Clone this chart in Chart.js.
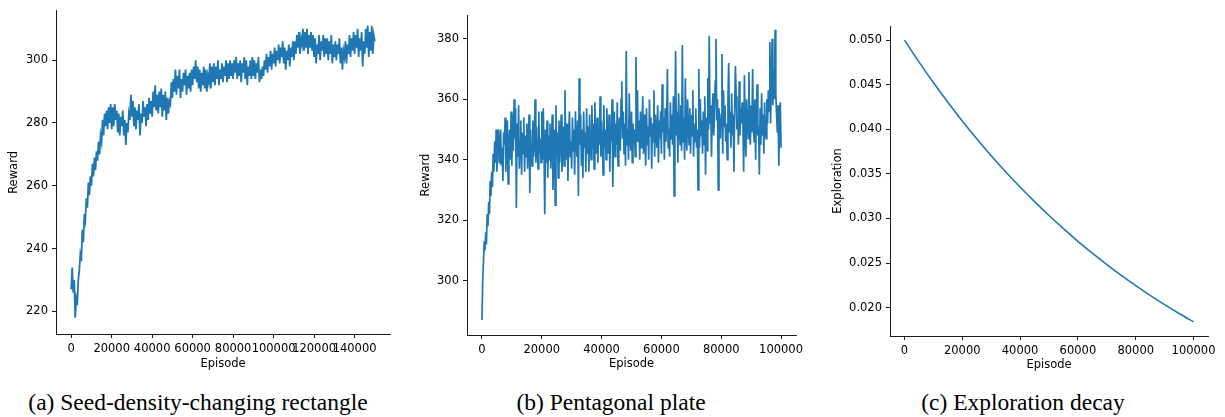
<!DOCTYPE html>
<html>
<head>
<meta charset="utf-8">
<script src="https://cdn.jsdelivr.net/npm/chart.js@4.4.1/dist/chart.umd.min.js"></script>
<style>
  body { margin: 0; background: #fff; }
  #wrap { position: relative; width: 1225px; height: 417px; overflow: hidden; background: #fff; }
  canvas { position: absolute; top: 0; }
  .cap { position: absolute; top: 390px; width: 400px; text-align: center; font-family: "Liberation Serif", "Times New Roman", serif; font-size: 23.5px; line-height: 24px; color: #000; white-space: nowrap; }
</style>
</head>
<body>
<div id="wrap">
  <canvas id="chart-a" width="400" height="380" style="left:0px"></canvas>
  <canvas id="chart-b" width="410" height="380" style="left:400px"></canvas>
  <canvas id="chart-c" width="415" height="380" style="left:810px"></canvas>
  <div class="cap" style="left:-2px">(a) Seed-density-changing rectangle</div>
  <div class="cap" style="left:411px">(b) Pentagonal plate</div>
  <div class="cap" style="left:823px">(c) Exploration decay</div>
</div>
<script>
// (a) reward, one value every 500 episodes (0 .. 150000)
var rewardA = [
    227, 234, 226, 230, 218, 224, 222, 230, 233, 238, 236, 246, 242, 251, 249, 256, 253, 261, 257, 263,
    260, 267, 263, 269, 265, 271, 268, 274, 270, 276, 274, 281, 276, 283, 279, 284, 278, 285, 280, 286,
    278, 285, 279, 286, 281, 284, 277, 283, 276, 282, 279, 284, 276, 281, 273, 280, 277, 283, 281, 289,
    282, 287, 279, 285, 278, 284, 281, 286, 276, 283, 280, 287, 282, 285, 279, 286, 281, 288, 283, 287,
    282, 290, 285, 292, 284, 289, 283, 290, 285, 291, 282, 289, 284, 290, 281, 288, 283, 287, 286, 293,
    288, 294, 290, 297, 289, 295, 291, 297, 288, 294, 290, 296, 292, 297, 289, 295, 291, 296, 290, 297,
    292, 298, 294, 300, 293, 298, 291, 297, 290, 296, 292, 298, 291, 297, 290, 295, 293, 299, 291, 298,
    293, 299, 292, 298, 294, 300, 292, 297, 294, 299, 293, 298, 295, 300, 293, 299, 294, 300, 295, 299,
    294, 300, 296, 301, 294, 299, 295, 300, 293, 299, 296, 301, 294, 300, 292, 298, 295, 300, 294, 301,
    295, 300, 294, 299, 296, 301, 293, 297, 294, 298, 295, 300, 297, 302, 296, 301, 298, 303, 297, 302,
    299, 304, 298, 303, 300, 305, 299, 304, 301, 306, 299, 304, 297, 303, 300, 305, 298, 304, 301, 306,
    300, 306, 302, 308, 304, 309, 302, 307, 305, 310, 303, 309, 304, 310, 302, 308, 304, 309, 303, 308,
    301, 307, 299, 305, 302, 308, 300, 306, 303, 308, 301, 307, 302, 307, 300, 306, 302, 308, 299, 305,
    301, 306, 300, 305, 302, 307, 299, 304, 297, 303, 301, 306, 299, 305, 302, 308, 301, 307, 303, 309,
    302, 308, 304, 310, 301, 307, 303, 309, 298, 306, 302, 310, 304, 311, 301, 309, 303, 311, 302, 308,
    306
];
var stepA = 500;

// (b) reward, one value every 250 episodes (0 .. 100000)
var rewardB = [
    287, 300, 306, 313, 310, 316, 312, 322, 318, 326, 322, 333, 328, 336, 331, 342, 336, 346, 339, 350,
    336, 348, 350, 339, 346, 350, 338, 344, 333, 349, 345, 354, 336, 347, 353, 332, 345, 350, 340, 356,
    338, 355, 343, 360, 347, 357, 324, 352, 341, 358, 337, 346, 353, 335, 349, 342, 354, 336, 348, 341,
    352, 337, 347, 355, 329, 350, 343, 338, 353, 341, 346, 360, 339, 351, 344, 337, 356, 342, 347, 339,
    356, 340, 357, 343, 322, 350, 339, 353, 334, 348, 340, 352, 337, 346, 355, 330, 344, 350, 325, 358,
    341, 349, 334, 353, 339, 347, 355, 336, 344, 351, 338, 363, 345, 340, 352, 333, 348, 356, 341, 346,
    337, 354, 343, 350, 335, 356, 346, 341, 353, 328, 367, 345, 355, 338, 350, 334, 356, 344, 349, 336,
    357, 342, 351, 336, 355, 346, 340, 358, 344, 352, 337, 359, 347, 342, 354, 339, 350, 345, 361, 341,
    353, 347, 335, 358, 344, 350, 340, 357, 348, 342, 355, 336, 351, 346, 360, 331, 349, 356, 341, 352,
    345, 359, 338, 350, 354, 343, 360, 366, 347, 356, 342, 352, 338, 376, 345, 350, 340, 362, 348, 343,
    356, 339, 352, 345, 350, 341, 374, 346, 363, 346, 353, 340, 356, 344, 349, 361, 342, 355, 347, 338,
    357, 345, 351, 340, 360, 348, 354, 337, 352, 346, 363, 341, 355, 349, 344, 358, 339, 353, 347, 356,
    342, 365, 349, 354, 340, 357, 346, 352, 370, 344, 350, 341, 359, 347, 355, 345, 361, 328, 352, 376,
    348, 356, 339, 362, 351, 345, 358, 343, 378, 346, 354, 340, 367, 349, 343, 360, 352, 345, 357, 342,
    355, 348, 363, 341, 352, 346, 357, 344, 350, 330, 370, 344, 360, 348, 353, 342, 356, 345, 361, 335,
    354, 343, 367, 350, 381, 352, 358, 341, 356, 362, 348, 355, 366, 380, 353, 360, 330, 357, 350, 347,
    355, 375, 342, 363, 351, 358, 346, 352, 340, 360, 372, 349, 356, 344, 362, 348, 355, 336, 358, 371,
    361, 350, 354, 345, 366, 348, 357, 352, 359, 352, 336, 368, 350, 341, 360, 354, 347, 369, 352, 345,
    358, 349, 370, 352, 346, 360, 340, 355, 365, 348, 351, 335, 357, 345, 362, 348, 355, 342, 359, 350,
    347, 360, 352, 363, 356, 379, 352, 366, 380, 358, 370, 360, 383, 362, 355, 349, 358, 338, 352, 359,
    344
];
var stepB = 250;

// (c) exploration rate
var episodesC = [0, 5000, 10000, 15000, 20000, 25000, 30000, 35000, 40000, 45000, 50000,
    55000, 60000, 65000, 70000, 75000, 80000, 85000, 90000, 95000, 100000];
var exploreC = [0.05000, 0.04756, 0.04524, 0.04304, 0.04094, 0.03894, 0.03704, 0.03524, 0.03352, 0.03188, 0.03033,
    0.02885, 0.02744, 0.02611, 0.02483, 0.02362, 0.02247, 0.02138, 0.02033, 0.01934, 0.01840];

var ticksXA = [0, 20000, 40000, 60000, 80000, 100000, 120000, 140000];
var ticksXB = [0, 20000, 40000, 60000, 80000, 100000];
var ticksYA = [220, 240, 260, 280, 300];
var ticksYB = [300, 320, 340, 360, 380];
var ticksYC = [0.020, 0.025, 0.030, 0.035, 0.040, 0.045, 0.050];

Chart.defaults.font.family = "DejaVu Sans";
Chart.defaults.font.size = 11.5;
Chart.defaults.color = "#000";

function axis(c) {
    return {
        type: "linear",
        min: c.min,
        max: c.max,
        afterBuildTicks: function (s) {
            s.ticks = c.ticks.map(function (v) { return { value: v }; });
        },
        afterFit: function (s) {
            if (c.width) s.width = c.width;
            if (c.height) s.height = c.height;
        },
        ticks: {
            autoSkip: false, maxRotation: 0, minRotation: 0, padding: 4,
            callback: c.fmt || function (v) { return String(v); }
        },
        grid: { drawOnChartArea: false, drawTicks: true, tickLength: 4, color: "#000", lineWidth: 0.9 },
        border: { display: true, color: "#000", width: 0.9 },
        title: { display: true, text: c.title, padding: c.pad }
    };
}

function panel(id, xs, ys, o) {
    var pts = xs.map(function (x, i) { return { x: x, y: ys[i] }; });
    return new Chart(id, {
        type: "line",
        data: {
            datasets: [{
                data: pts,
                borderColor: "#1f77b4",
                borderWidth: o.lw || 1.6,
                pointRadius: 0,
                fill: false,
                tension: o.smooth ? 0.4 : 0,
                cubicInterpolationMode: o.smooth ? "monotone" : "default"
            }]
        },
        options: {
            responsive: false,
            animation: false,
            layout: { padding: { left: 0, right: o.right, top: o.top, bottom: 0 } },
            plugins: { legend: { display: false }, tooltip: { enabled: false } },
            scales: { x: o.x, y: o.y }
        }
    });
}

panel("chart-a", rewardA.map(function (_, i) { return i * stepA; }), rewardA, {
    right: 10, top: 10, lw: 1.8,
    x: axis({ min: -7500, max: 157500, ticks: ticksXA, height: 46, title: "Episode", pad: { top: 0, bottom: 9 } }),
    y: axis({ min: 212.8, max: 315.7, ticks: ticksYA, width: 56, title: "Reward", pad: { top: 7, bottom: 0 } })
});

panel("chart-b", rewardB.map(function (_, i) { return i * stepB; }), rewardB, {
    right: 14, top: 15, lw: 1.7,
    x: axis({ min: -5000, max: 105000, ticks: ticksXB, height: 45, title: "Episode", pad: { top: 0, bottom: 9 } }),
    y: axis({ min: 282.0, max: 387.9, ticks: ticksYB, width: 67, title: "Reward", pad: { top: 19, bottom: 0 } })
});

panel("chart-c", episodesC, exploreC, {
    right: 17, top: 26, smooth: true,
    x: axis({ min: -5000, max: 105000, ticks: ticksXB, height: 44, title: "Episode", pad: { top: 0, bottom: 8 } }),
    y: axis({ min: 0.01682, max: 0.05158, ticks: ticksYC, width: 80, title: "Exploration", pad: { top: 21, bottom: 0 },
        fmt: function (v) { return v.toFixed(3); } })
});
</script>
</body>
</html>
